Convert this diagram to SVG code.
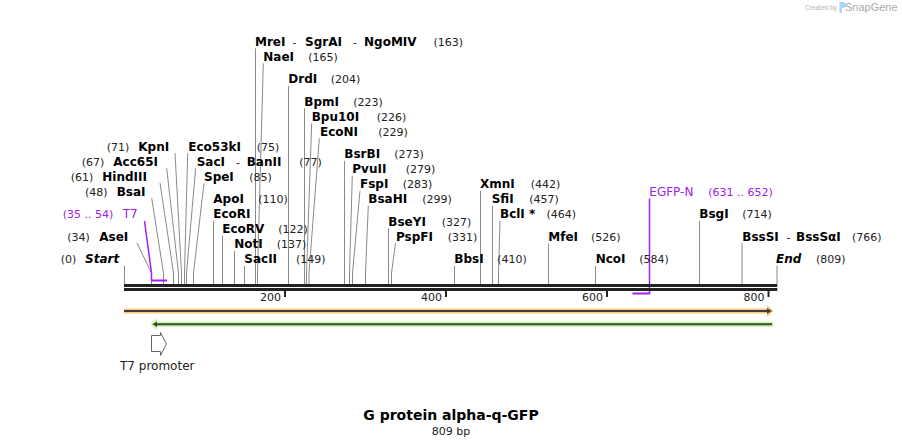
<svg xmlns="http://www.w3.org/2000/svg" width="902" height="447" viewBox="0 0 902 447">
<style>
.n{font-family:"DejaVu Sans",Verdana,sans-serif;font-size:12px;font-weight:bold;fill:#000}
.c{font-family:"DejaVu Sans",Verdana,sans-serif;font-size:11px;fill:#222}
.f{font-family:"DejaVu Sans",Verdana,sans-serif;font-size:12px}
.pu{fill:#a020f0}
.it{font-style:italic}
.ln{stroke:#8a8a8a;stroke-width:1;fill:none}
.pl{stroke:#a020f0;stroke-width:1.5;fill:none}
.pm{stroke:#a020f0;stroke-width:2;fill:none}
.tk{fill:#222}
</style>
<rect width="902" height="447" fill="#fff"/>

<g id="watermark">
<text x="805" y="10" font-family="Liberation Sans,Arial,sans-serif" font-size="6.5" fill="#b5b5b5">Created by</text>
<path d="M839.5 2h3.5a3 3 0 0 1 0 6h-1v5h-2.5z" fill="#a8d8f5"/>
<text x="845" y="11" font-family="Liberation Sans,Arial,sans-serif" font-size="11" fill="#aaa">SnapGene</text>
</g>

<g id="connectors">
<polyline class="ln" points="124.5,265.5 124.5,284"/>
<polyline class="ln" points="137,243 151.5,273 151.5,284"/>
<polyline class="ln" points="151.7,198.3 163.5,273 163.5,284"/>
<polyline class="ln" points="160,183 173.5,273 173.5,284"/>
<polyline class="ln" points="166.7,168.3 178.5,273 178.5,284"/>
<polyline class="ln" points="175,153 181.5,273 181.5,284"/>
<polyline class="ln" points="187.7,153 184.5,273 184.5,284"/>
<polyline class="ln" points="195.7,168.3 186.5,273 186.5,284"/>
<polyline class="ln" points="204,183.3 193.5,273 193.5,284"/>
<polyline class="ln" points="213.5,220.8 213.5,284"/>
<polyline class="ln" points="222.5,235.8 222.5,284"/>
<polyline class="ln" points="234.5,250.8 234.5,284"/>
<polyline class="ln" points="244.5,265.8 244.5,284"/>
<polyline class="ln" points="255.5,48.3 255.5,284"/>
<polyline class="ln" points="263.3,63.3 257.5,273 257.5,284"/>
<polyline class="ln" points="288.5,85.8 288.5,284"/>
<polyline class="ln" points="304.5,108.3 304.5,284"/>
<polyline class="ln" points="311.7,123.3 306.5,273 306.5,284"/>
<polyline class="ln" points="319.3,138.3 309,273 309,284"/>
<polyline class="ln" points="344.5,160.8 344.5,284"/>
<polyline class="ln" points="352.3,175.8 349.5,273 349.5,284"/>
<polyline class="ln" points="360,190.8 352.5,273 352.5,284"/>
<polyline class="ln" points="368.3,205.8 365.5,273 365.5,284"/>
<polyline class="ln" points="388.5,228.3 388.5,284"/>
<polyline class="ln" points="395.5,243.3 391.5,273 391.5,284"/>
<polyline class="ln" points="454.5,265.8 454.5,284"/>
<polyline class="ln" points="480.5,190.8 480.5,284"/>
<polyline class="ln" points="492.5,205.8 492.5,284"/>
<polyline class="ln" points="500,220.8 498.5,273 498.5,284"/>
<polyline class="ln" points="548.5,243.3 548.5,284"/>
<polyline class="ln" points="595.5,265.8 595.5,284"/>
<polyline class="ln" points="699.5,220.8 699.5,284"/>
<polyline class="ln" points="742,243.3 742,284"/>
<polyline class="ln" points="777,265.8 777,284"/>
<polyline class="pl" points="144.5,221 151.5,273 151.5,281"/>
<line class="pm" x1="151" y1="280.5" x2="167" y2="280.5"/>
<polyline class="pl" points="649.5,198.5 649.5,294"/>
<line class="pm" x1="632.5" y1="293.5" x2="650.2" y2="293.5"/>
</g>

<g id="sequence">
<rect x="124" y="284" width="653.3" height="3" fill="#222"/>
<rect x="124" y="288" width="653.3" height="3" fill="#222"/>
<rect class="tk" x="284" y="291" width="2" height="6"/>
<rect class="tk" x="445" y="291" width="2" height="6"/>
<rect class="tk" x="606" y="291" width="2" height="6"/>
<rect class="tk" x="767.5" y="291" width="2" height="6"/>
<text class="c" x="281" y="301" text-anchor="end">200</text>
<text class="c" x="442" y="301" text-anchor="end">400</text>
<text class="c" x="603" y="301" text-anchor="end">600</text>
<text class="c" x="764.5" y="301" text-anchor="end">800</text>
</g>

<g id="feature-orange">
<path d="M124 308.5H767V305L773.5 311L767 317V313.5H124Z" fill="#f9c77d"/>
<line x1="124" y1="311" x2="767.5" y2="311" stroke="#3d3d3d" stroke-width="2"/>
<path d="M767 308.3L772 311L767 313.7Z" fill="#3d3d3d"/>
</g>
<g id="feature-green">
<path d="M773.3 321.7H157V318.5L150.5 324.2L157 330V326.7H773.3Z" fill="#c4f59c"/>
<line x1="156.5" y1="324.2" x2="772" y2="324.2" stroke="#3d4d3d" stroke-width="2"/>
<path d="M157 321.5L152.3 324.2L157 326.9Z" fill="#3d4d3d"/>
</g>
<g id="t7-promoter">
<polygon points="151.5,335.5 160.5,335.5 160.5,332.5 166.5,344 160.5,355.5 160.5,351.5 151.5,351.5" fill="#fff" stroke="#666" stroke-width="1"/>
<text class="f" x="120" y="370" fill="#222">T7 promoter</text>
</g>

<g id="lbl-start"><text class="c" x="60.7" y="263.3">(0)</text><text class="n it" x="85" y="263.3">Start</text></g>
<g id="lbl-asei"><text class="c" x="67.3" y="240.8">(34)</text><text class="n" x="99.3" y="240.8">AseI</text></g>
<g id="lbl-t7"><text class="c pu" x="62.7" y="218.3">(35 .. 54)</text><text class="f pu" x="122.7" y="218.3">T7</text></g>
<g id="lbl-bsai"><text class="c" x="85" y="195.8">(48)</text><text class="n" x="116.7" y="195.8">BsaI</text></g>
<g id="lbl-hindiii"><text class="c" x="70.7" y="180.8">(61)</text><text class="n" x="102.3" y="180.8">HindIII</text></g>
<g id="lbl-acc65i"><text class="c" x="81.7" y="165.8">(67)</text><text class="n" x="113.3" y="165.8">Acc65I</text></g>
<g id="lbl-kpni"><text class="c" x="106.7" y="150.8">(71)</text><text class="n" x="138.3" y="150.8">KpnI</text></g>
<g id="lbl-eco53ki"><text class="n" x="188.3" y="150.8">Eco53kI</text><text class="c" x="256.7" y="150.8">(75)</text></g>
<g id="lbl-saci"><text class="n" x="196.7" y="165.8">SacI</text><text class="c" x="236" y="165.8">-</text><text class="n" x="246.7" y="165.8">BanII</text><text class="c" x="299.3" y="165.8">(77)</text></g>
<g id="lbl-spei"><text class="n" x="204" y="180.8">SpeI</text><text class="c" x="249.3" y="180.8">(85)</text></g>
<g id="lbl-apoi"><text class="n" x="213.3" y="203.3">ApoI</text><text class="c" x="258.3" y="203.3">(110)</text><text class="n" x="213.3" y="218.3">EcoRI</text></g>
<g id="lbl-ecorv"><text class="n" x="222.3" y="233.3">EcoRV</text><text class="c" x="278.3" y="233.3">(122)</text></g>
<g id="lbl-noti"><text class="n" x="234.3" y="248.3">NotI</text><text class="c" x="276.7" y="248.3">(137)</text></g>
<g id="lbl-sacii"><text class="n" x="244.3" y="263.3">SacII</text><text class="c" x="296" y="263.3">(149)</text></g>
<g id="lbl-mrei"><text class="n" x="255" y="45.8">MreI</text><text class="c" x="292.5" y="45.8">-</text><text class="n" x="305" y="45.8">SgrAI</text><text class="c" x="353" y="45.8">-</text><text class="n" x="364" y="45.8">NgoMIV</text><text class="c" x="433.5" y="45.8">(163)</text></g>
<g id="lbl-naei"><text class="n" x="263.3" y="60.8">NaeI</text><text class="c" x="308.3" y="60.8">(165)</text></g>
<g id="lbl-drdi"><text class="n" x="288.3" y="83.3">DrdI</text><text class="c" x="330.7" y="83.3">(204)</text></g>
<g id="lbl-bpmi"><text class="n" x="304.3" y="105.8">BpmI</text><text class="c" x="353.3" y="105.8">(223)</text></g>
<g id="lbl-bpu10i"><text class="n" x="311.7" y="120.8">Bpu10I</text><text class="c" x="376.7" y="120.8">(226)</text></g>
<g id="lbl-econi"><text class="n" x="320" y="135.8">EcoNI</text><text class="c" x="378.3" y="135.8">(229)</text></g>
<g id="lbl-bsrbi"><text class="n" x="344.3" y="158.3">BsrBI</text><text class="c" x="394.3" y="158.3">(273)</text></g>
<g id="lbl-pvuii"><text class="n" x="352.3" y="173.3">PvuII</text><text class="c" x="405.7" y="173.3">(279)</text></g>
<g id="lbl-fspi"><text class="n" x="360" y="188.3">FspI</text><text class="c" x="402.7" y="188.3">(283)</text></g>
<g id="lbl-bsahi"><text class="n" x="368.3" y="203.3">BsaHI</text><text class="c" x="422.3" y="203.3">(299)</text></g>
<g id="lbl-bseyi"><text class="n" x="388.3" y="225.8">BseYI</text><text class="c" x="441.7" y="225.8">(327)</text></g>
<g id="lbl-pspfi"><text class="n" x="396" y="240.8">PspFI</text><text class="c" x="447.7" y="240.8">(331)</text></g>
<g id="lbl-bbsi"><text class="n" x="454.3" y="263.3">BbsI</text><text class="c" x="497.3" y="263.3">(410)</text></g>
<g id="lbl-xmni"><text class="n" x="480" y="188.3">XmnI</text><text class="c" x="530.7" y="188.3">(442)</text></g>
<g id="lbl-sfii"><text class="n" x="491.7" y="203.3">SfiI</text><text class="c" x="529.3" y="203.3">(457)</text></g>
<g id="lbl-bcli"><text class="n" x="500" y="218.3">BclI *</text><text class="c" x="546.5" y="218.3">(464)</text></g>
<g id="lbl-mfei"><text class="n" x="548.3" y="240.8">MfeI</text><text class="c" x="591" y="240.8">(526)</text></g>
<g id="lbl-ncoi"><text class="n" x="595.7" y="263.3">NcoI</text><text class="c" x="639.3" y="263.3">(584)</text></g>
<g id="lbl-egfpn"><text class="f pu" x="649.3" y="195.8">EGFP-N</text><text class="c pu" x="708.3" y="195.8">(631 .. 652)</text></g>
<g id="lbl-bsgi"><text class="n" x="699.3" y="218.3">BsgI</text><text class="c" x="742.3" y="218.3">(714)</text></g>
<g id="lbl-bsssi"><text class="n" x="742.3" y="240.8">BssSI</text><text class="c" x="786.5" y="240.8">-</text><text class="n" x="796" y="240.8">BssSαI</text><text class="c" x="852" y="240.8">(766)</text></g>
<g id="lbl-end"><text class="n it" x="776" y="263.3">End</text><text class="c" x="816" y="263.3">(809)</text></g>

<g id="title">
<text x="451" y="420" text-anchor="middle" font-family="DejaVu Sans,Verdana,sans-serif" font-size="14" font-weight="bold" fill="#000">G protein alpha-q-GFP</text>
<text x="451" y="435" text-anchor="middle" font-family="DejaVu Sans,Verdana,sans-serif" font-size="11" fill="#222">809 bp</text>
</g>
</svg>
